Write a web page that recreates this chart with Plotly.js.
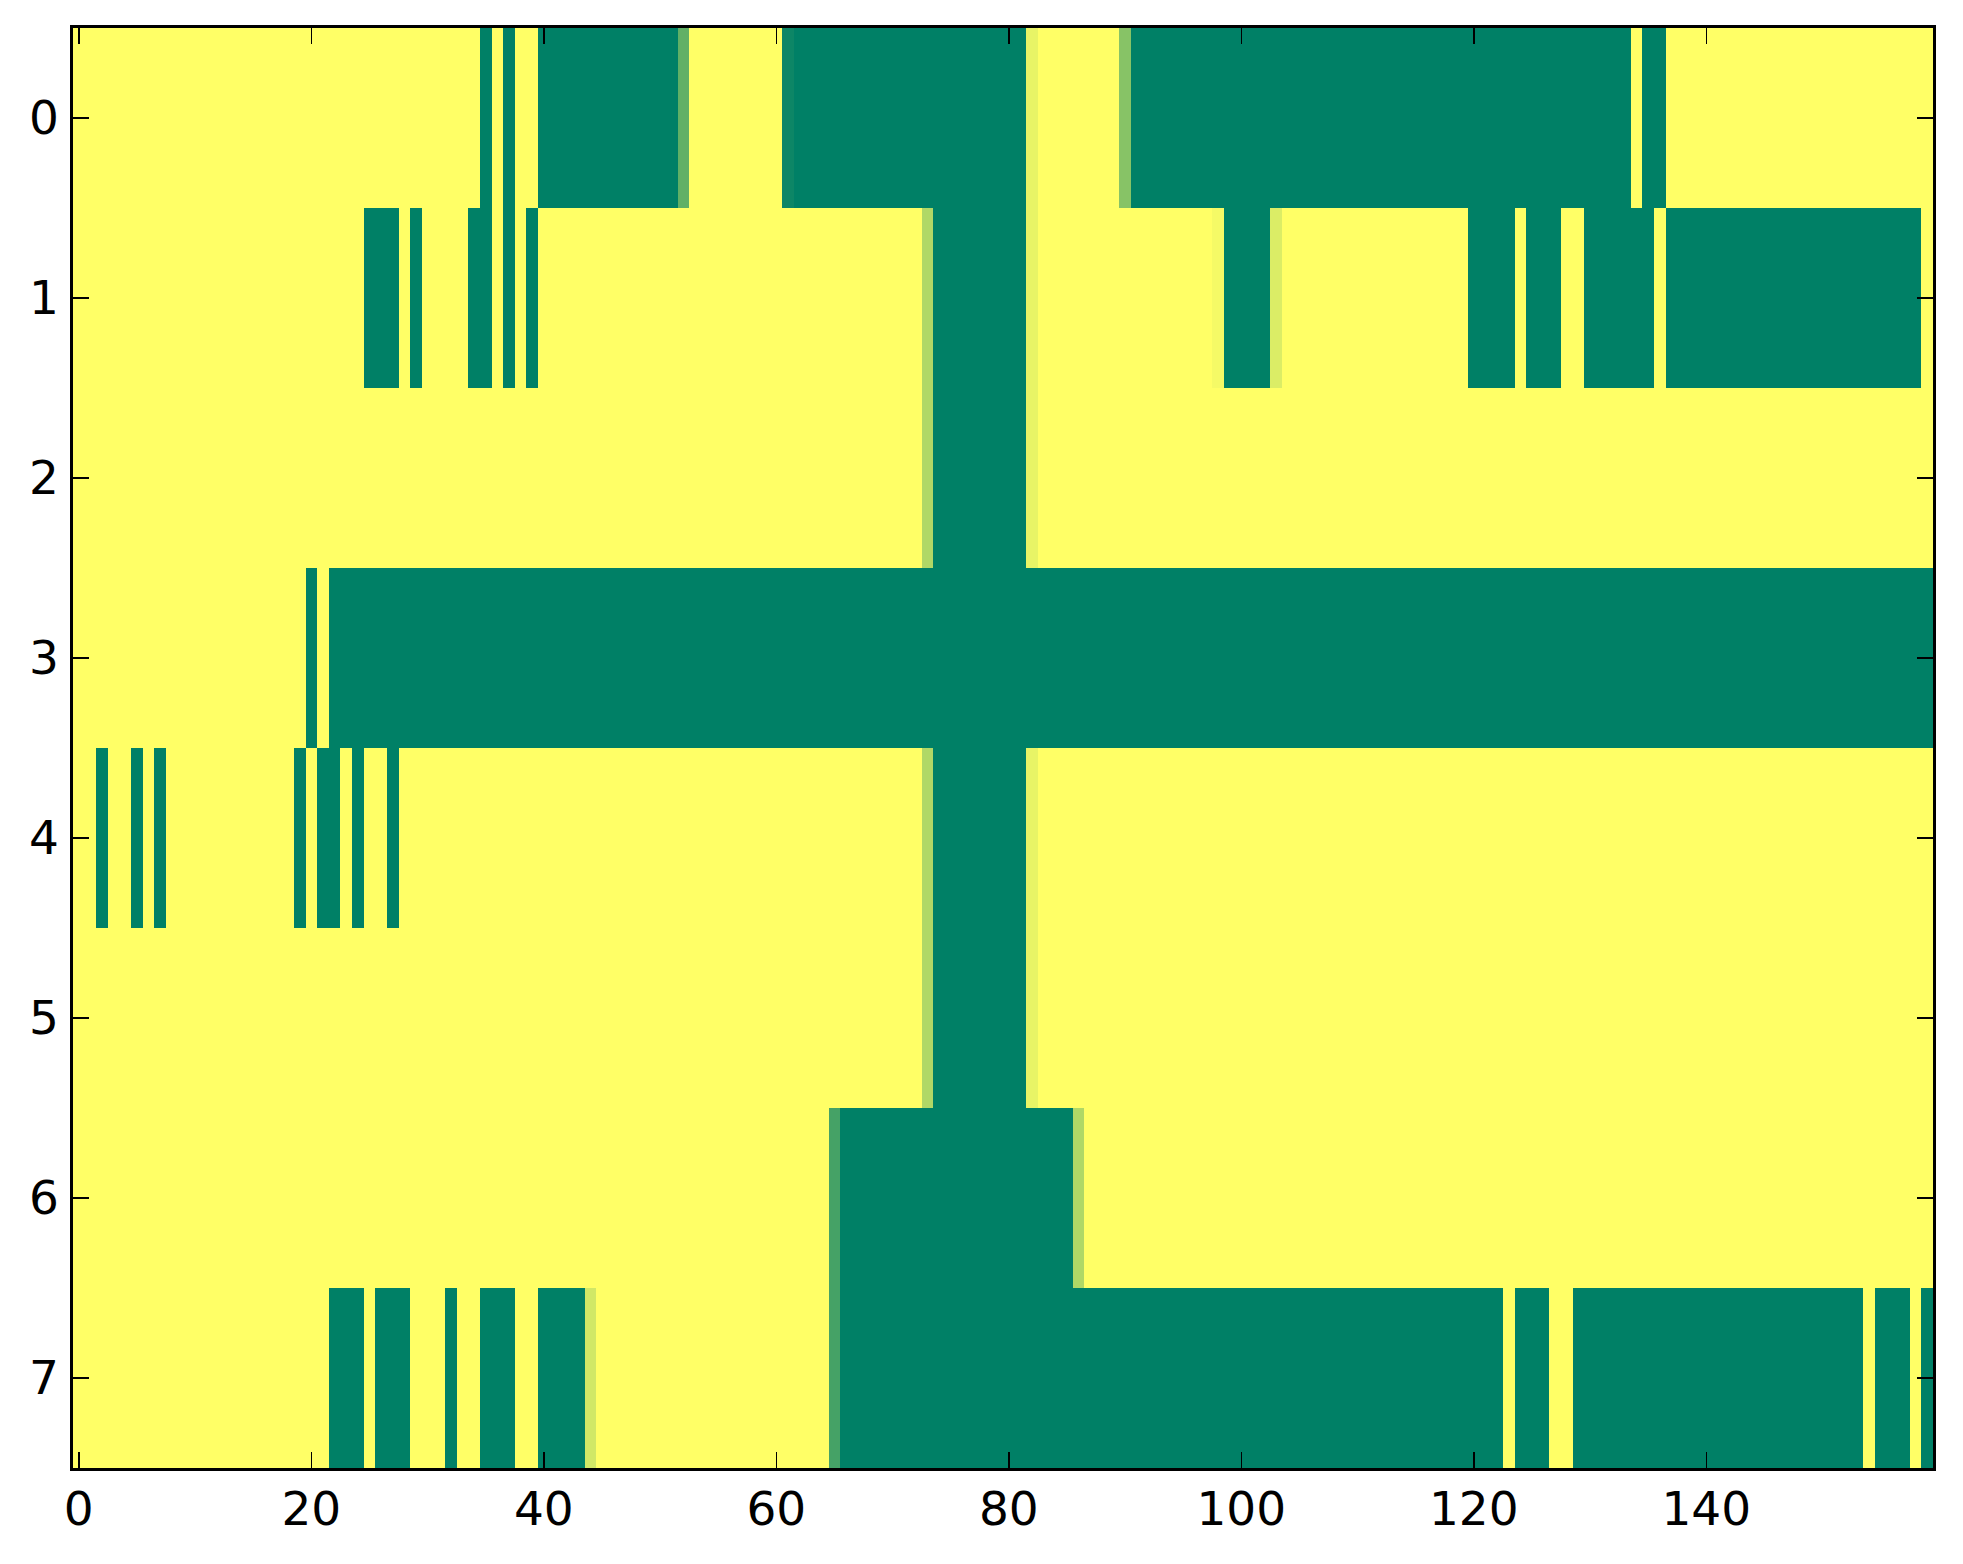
<!DOCTYPE html>
<html>
<head>
<meta charset="utf-8">
<script src="https://cdn.plot.ly/plotly-3.0.1.min.js"></script>
<style>html,body{margin:0;padding:0;background:#fff;}#chart{width:1963px;height:1564px;}</style>
</head>
<body>
<div id="chart"></div>
<script>
// Row values (0 = green end, 1 = yellow end of the "summer" colormap), 160 columns each
var row0 = [
 1,1,1,1,1,1,1,1,1,1,1,1,1,1,1,1,1,1,1,1,
 1,1,1,1,1,1,1,1,1,1,1,1,1,1,1,0,1,0,1,1,
 0,0,0,0,0,0,0,0,0,0,0,0,0.38,1,1,1,1,1,1,1,
 1,0.05,0,0,0,0,0,0,0,0,0,0,0,0,0,0,0,0,0,0,
 0,0,0.91,1,1,1,1,1,1,1,0.53,0,0,0,0,0,0,0,0,0,
 0,0,0,0,0,0,0,0,0,0,0,0,0,0,0,0,0,0,0,0,
 0,0,0,0,0,0,0,0,0,0,0,0,0,0,1,0,0,1,1,1,
 1,1,1,1,1,1,1,1,1,1,1,1,1,1,1,1,1,1,1,1
];
var row1 = [
 1,1,1,1,1,1,1,1,1,1,1,1,1,1,1,1,1,1,1,1,
 1,1,1,1,1,0,0,0,1,0,1,1,1,1,0,0,1,0,1,0,
 1,1,1,1,1,1,1,1,1,1,1,1,1,1,1,1,1,1,1,1,
 1,1,1,1,1,1,1,1,1,1,1,1,1,0.69,0,0,0,0,0,0,
 0,0,0.91,1,1,1,1,1,1,1,1,1,1,1,1,1,1,1,0.96,0,
 0,0,0,0.86,1,1,1,1,1,1,1,1,1,1,1,1,1,1,1,1,
 0,0,0,0,1,0,0,0,1,1,0,0,0,0,0,0,1,0,0,0,
 0,0,0,0,0,0,0,0,0,0,0,0,0,0,0,0,0,0,0,1
];
var row2 = [
 1,1,1,1,1,1,1,1,1,1,1,1,1,1,1,1,1,1,1,1,
 1,1,1,1,1,1,1,1,1,1,1,1,1,1,1,1,1,1,1,1,
 1,1,1,1,1,1,1,1,1,1,1,1,1,1,1,1,1,1,1,1,
 1,1,1,1,1,1,1,1,1,1,1,1,1,0.69,0,0,0,0,0,0,
 0,0,0.91,1,1,1,1,1,1,1,1,1,1,1,1,1,1,1,1,1,
 1,1,1,1,1,1,1,1,1,1,1,1,1,1,1,1,1,1,1,1,
 1,1,1,1,1,1,1,1,1,1,1,1,1,1,1,1,1,1,1,1,
 1,1,1,1,1,1,1,1,1,1,1,1,1,1,1,1,1,1,1,1
];
var row3 = [
 1,1,1,1,1,1,1,1,1,1,1,1,1,1,1,1,1,1,1,1,
 0,1,0,0,0,0,0,0,0,0,0,0,0,0,0,0,0,0,0,0,
 0,0,0,0,0,0,0,0,0,0,0,0,0,0,0,0,0,0,0,0,
 0,0,0,0,0,0,0,0,0,0,0,0,0,0,0,0,0,0,0,0,
 0,0,0,0,0,0,0,0,0,0,0,0,0,0,0,0,0,0,0,0,
 0,0,0,0,0,0,0,0,0,0,0,0,0,0,0,0,0,0,0,0,
 0,0,0,0,0,0,0,0,0,0,0,0,0,0,0,0,0,0,0,0,
 0,0,0,0,0,0,0,0,0,0,0,0,0,0,0,0,0,0,0,0
];
var row4 = [
 1,1,0,1,1,0,1,0,1,1,1,1,1,1,1,1,1,1,1,0,
 1,0,0,1,0,1,1,0,1,1,1,1,1,1,1,1,1,1,1,1,
 1,1,1,1,1,1,1,1,1,1,1,1,1,1,1,1,1,1,1,1,
 1,1,1,1,1,1,1,1,1,1,1,1,1,0.69,0,0,0,0,0,0,
 0,0,0.91,1,1,1,1,1,1,1,1,1,1,1,1,1,1,1,1,1,
 1,1,1,1,1,1,1,1,1,1,1,1,1,1,1,1,1,1,1,1,
 1,1,1,1,1,1,1,1,1,1,1,1,1,1,1,1,1,1,1,1,
 1,1,1,1,1,1,1,1,1,1,1,1,1,1,1,1,1,1,1,1
];
var row5 = [
 1,1,1,1,1,1,1,1,1,1,1,1,1,1,1,1,1,1,1,1,
 1,1,1,1,1,1,1,1,1,1,1,1,1,1,1,1,1,1,1,1,
 1,1,1,1,1,1,1,1,1,1,1,1,1,1,1,1,1,1,1,1,
 1,1,1,1,1,1,1,1,1,1,1,1,1,0.69,0,0,0,0,0,0,
 0,0,0.91,1,1,1,1,1,1,1,1,1,1,1,1,1,1,1,1,1,
 1,1,1,1,1,1,1,1,1,1,1,1,1,1,1,1,1,1,1,1,
 1,1,1,1,1,1,1,1,1,1,1,1,1,1,1,1,1,1,1,1,
 1,1,1,1,1,1,1,1,1,1,1,1,1,1,1,1,1,1,1,1
];
var row6 = [
 1,1,1,1,1,1,1,1,1,1,1,1,1,1,1,1,1,1,1,1,
 1,1,1,1,1,1,1,1,1,1,1,1,1,1,1,1,1,1,1,1,
 1,1,1,1,1,1,1,1,1,1,1,1,1,1,1,1,1,1,1,1,
 1,1,1,1,1,0.27,0,0,0,0,0,0,0,0,0,0,0,0,0,0,
 0,0,0,0,0,0,0.69,1,1,1,1,1,1,1,1,1,1,1,1,1,
 1,1,1,1,1,1,1,1,1,1,1,1,1,1,1,1,1,1,1,1,
 1,1,1,1,1,1,1,1,1,1,1,1,1,1,1,1,1,1,1,1,
 1,1,1,1,1,1,1,1,1,1,1,1,1,1,1,1,1,1,1,1
];
var row7 = [
 1,1,1,1,1,1,1,1,1,1,1,1,1,1,1,1,1,1,1,1,
 1,1,0,0,0,1,0,0,0,1,1,1,0,1,1,0,0,0,1,1,
 0,0,0,0,0.82,1,1,1,1,1,1,1,1,1,1,1,1,1,1,1,
 1,1,1,1,1,0.27,0,0,0,0,0,0,0,0,0,0,0,0,0,0,
 0,0,0,0,0,0,0,0,0,0,0,0,0,0,0,0,0,0,0,0,
 0,0,0,0,0,0,0,0,0,0,0,0,0,0,0,0,0,0,0,0,
 0,0,0,1,0,0,0,1,1,0,0,0,0,0,0,0,0,0,0,0,
 0,0,0,0,0,0,0,0,0,0,0,0,0,0,1,0,0,0,1,0
];
var rowLabels = [0,1,2,3,4,5,6,7];
var xTickVals = [0,20,40,60,80,100,120,140];

var zData = [row0,row1,row2,row3,row4,row5,row6,row7];

var summer = [[0,'rgb(0,128,102)'],[1,'rgb(255,255,102)']];

var trace = {
  type: 'heatmap',
  z: zData,
  y: rowLabels,
  colorscale: summer,
  zmin: 0, zmax: 1,
  zsmooth: false,
  showscale: false,
  hoverinfo: 'skip'
};

var axisCommon = {
  showline: true, linecolor: '#000', linewidth: 2.8,
  mirror: 'ticks', ticks: 'inside', ticklen: 16, tickwidth: 1.5, tickcolor: '#000',
  showgrid: false, zeroline: false,
  tickfont: {family: 'DejaVu Sans', size: 47, color: '#000'}
};

var layout = {
  width: 1963, height: 1564,
  margin: {l: 73, r: 30, t: 28, b: 96, pad: 0},
  paper_bgcolor: '#fff', plot_bgcolor: '#fff',
  xaxis: Object.assign({}, axisCommon, {
    range: [-0.5, 159.5], tickmode: 'array', tickvals: xTickVals,
    ticktext: xTickVals.map(String), ticklabelstandoff: -2
  }),
  yaxis: Object.assign({}, axisCommon, {
    range: [7.5, -0.5], tickmode: 'array', tickvals: rowLabels,
    ticktext: rowLabels.map(String), ticklabelstandoff: 2
  })
};

Plotly.newPlot('chart', [trace], layout, {staticPlot: true, displayModeBar: false});
</script>
</body>
</html>
